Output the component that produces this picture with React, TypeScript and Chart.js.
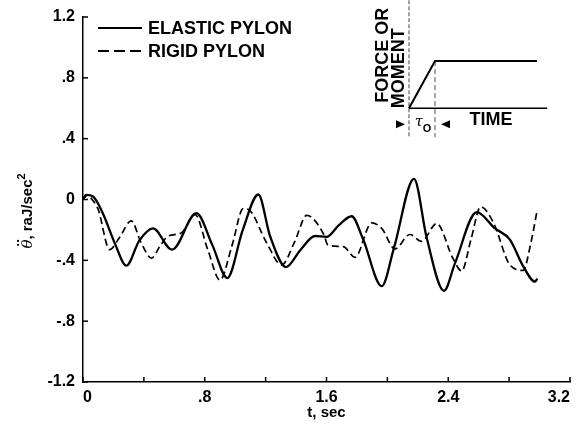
import React, { useEffect, useRef } from 'react';
import { Chart, registerables } from 'chart.js';

Chart.register(...registerables);

// ---- Data ----
const seriesNames = ['ELASTIC PYLON', 'RIGID PYLON'];

const elasticT = [0, 0.02, 0.066, 0.13, 0.21, 0.285, 0.37, 0.46, 0.585, 0.745, 0.85, 0.948, 1.05, 1.152, 1.229, 1.334, 1.43, 1.525, 1.6, 1.68, 1.765, 1.84, 1.963, 2.043, 2.175, 2.258, 2.372, 2.444, 2.587, 2.707, 2.805, 2.893, 2.97, 2.985];
const elasticY = [0, 0.03, 0.02, -0.09, -0.29, -0.435, -0.27, -0.19, -0.33, -0.09, -0.3, -0.516, -0.2, 0.033, -0.24, -0.444, -0.33, -0.24, -0.246, -0.17, -0.11, -0.26, -0.57, -0.32, 0.136, -0.25, -0.6, -0.42, -0.083, -0.19, -0.264, -0.44, -0.54, -0.52];

const rigidT = [0, 0.03, 0.06, 0.1, 0.175, 0.24, 0.317, 0.38, 0.45, 0.51, 0.56, 0.646, 0.736, 0.82, 0.9, 0.98, 1.053, 1.093, 1.207, 1.305, 1.39, 1.47, 1.58, 1.61, 1.71, 1.787, 1.897, 1.963, 2.05, 2.148, 2.225, 2.324, 2.43, 2.488, 2.55, 2.613, 2.696, 2.805, 2.893, 2.94, 2.985];
const rigidY = [0, 0.03, 0.0, -0.066, -0.33, -0.25, -0.14, -0.28, -0.385, -0.3, -0.24, -0.22, -0.1, -0.33, -0.53, -0.3, -0.06, -0.07, -0.286, -0.43, -0.28, -0.105, -0.225, -0.3, -0.31, -0.38, -0.154, -0.19, -0.325, -0.23, -0.275, -0.158, -0.385, -0.47, -0.26, -0.048, -0.15, -0.43, -0.466, -0.3, -0.066];

const xTickValues = [0, 0.4, 0.8, 1.2, 1.6, 2.0, 2.4, 2.8, 3.2];
const xTickLabels = ['0', '', '.8', '', '1.6', '', '2.4', '', '3.2'];
const yTickValues = [-1.2, -0.8, -0.4, 0, 0.4, 0.8, 1.2];
const yTickLabels = ['-1.2', '-.8', '-.4', '0', '.4', '.8', '1.2'];

const xTitle = 't, sec';
const yTitleSymbol = 'θ';
const yTitleRest = ', raJ/sec';
const yTitleSup = '2';

// Inset schematic (force or moment vs time), in main-axis units
const insetRampT = [2.142, 2.313, 2.983];
const insetRampY = [0.6, 0.91, 0.91];
const insetAxisT = [2.142, 3.05];
const insetAxisY = [0.6, 0.6];
const insetVAxisT = [2.142, 2.142];
const insetVAxisY = [1.31, 0.41];
const insetTauT = [2.313, 2.313];
const insetTauY = [0.91, 0.41];
const insetLabels = ['FORCE OR', 'MOMENT', 'TIME', 'τ', 'O'];

const FONT = "'Liberation Sans', Arial, Helvetica, sans-serif";
const NARROW = "'Liberation Sans Narrow', 'Liberation Sans', Arial, sans-serif";

const pts = (xs: number[], ys: number[]) => xs.map((x, i) => ({ x, y: ys[i] }));

const decorPlugin = {
  id: 'decor',
  afterDatasetsDraw(chart: any) {
    const { ctx, chartArea, scales } = chart;
    const x = scales.x;
    const y = scales.y;
    ctx.save();
    ctx.strokeStyle = '#000';
    ctx.fillStyle = '#000';
    ctx.lineWidth = 1.5;
    // inward ticks
    for (const v of xTickValues) {
      const px = x.getPixelForValue(v);
      ctx.beginPath();
      ctx.moveTo(px, chartArea.bottom);
      ctx.lineTo(px, chartArea.bottom - 5);
      ctx.stroke();
    }
    for (const v of yTickValues) {
      const py = y.getPixelForValue(v);
      ctx.beginPath();
      ctx.moveTo(chartArea.left, py);
      ctx.lineTo(chartArea.left + 5, py);
      ctx.stroke();
    }

    // legend
    const lx = chartArea.left + 15;
    const ly = [28, 51];
    ctx.font = `bold 18px ${NARROW}`;
    ctx.textBaseline = 'middle';
    ctx.textAlign = 'left';
    for (let i = 0; i < 2; i++) {
      ctx.beginPath();
      ctx.lineWidth = i === 0 ? 2.2 : 1.8;
      ctx.setLineDash(i === 0 ? [] : [11, 5]);
      ctx.moveTo(lx, ly[i]);
      ctx.lineTo(lx + 44, ly[i]);
      ctx.stroke();
      ctx.setLineDash([]);
      ctx.fillText(seriesNames[i], lx + 50, ly[i] + 1);
    }

    // axis titles
    ctx.font = `bold 15px ${FONT}`;
    ctx.textAlign = 'center';
    ctx.fillText(xTitle, (chartArea.left + chartArea.right) / 2, 413);
    ctx.save();
    ctx.translate(27, 211);
    ctx.rotate(-Math.PI / 2);
    ctx.textAlign = 'left';
    ctx.textBaseline = 'alphabetic';
    ctx.font = `italic 15px 'DejaVu Serif', serif`;
    const w0 = ctx.measureText(yTitleSymbol).width;
    ctx.font = `bold 15px ${FONT}`;
    const w1 = ctx.measureText(yTitleRest).width;
    ctx.font = `bold 11px ${FONT}`;
    const w2 = ctx.measureText(yTitleSup).width;
    let sx = -(w0 + w1 + w2) / 2;
    const base = 5;
    ctx.font = `italic 15px 'DejaVu Serif', serif`;
    ctx.fillText(yTitleSymbol, sx, base);
    // double dot accent over theta
    ctx.beginPath();
    ctx.arc(sx + w0 * 0.42, base - 14, 1.1, 0, Math.PI * 2);
    ctx.arc(sx + w0 * 0.85, base - 14, 1.1, 0, Math.PI * 2);
    ctx.fill();
    sx += w0;
    ctx.font = `bold 15px ${FONT}`;
    ctx.fillText(yTitleRest, sx, base);
    sx += w1;
    ctx.font = `bold 11px ${FONT}`;
    ctx.fillText(yTitleSup, sx, base - 7);
    ctx.restore();

    // inset texts
    ctx.textBaseline = 'middle';
    const ax = x.getPixelForValue(insetVAxisT[0]);
    const ay = y.getPixelForValue(insetAxisY[0]);
    const tx = x.getPixelForValue(insetTauT[0]);
    ctx.font = `bold 18px ${NARROW}`;
    ctx.textAlign = 'center';
    ctx.save();
    ctx.translate(ax - 26, ay - 53);
    ctx.rotate(-Math.PI / 2);
    ctx.fillText(insetLabels[0], 0, 0);
    ctx.restore();
    ctx.save();
    ctx.translate(ax - 10, ay - 40);
    ctx.rotate(-Math.PI / 2);
    ctx.fillText(insetLabels[1], 0, 0);
    ctx.restore();
    ctx.font = `bold 18px ${NARROW}`;
    ctx.fillText(insetLabels[2], ax + 82, ay + 12);
    // arrows
    const arY = ay + 16;
    ctx.beginPath();
    ctx.moveTo(ax - 13, arY - 4);
    ctx.lineTo(ax - 4, arY);
    ctx.lineTo(ax - 13, arY + 4);
    ctx.closePath();
    ctx.fill();
    ctx.beginPath();
    ctx.moveTo(tx + 15, arY - 4);
    ctx.lineTo(tx + 6, arY);
    ctx.lineTo(tx + 15, arY + 4);
    ctx.closePath();
    ctx.fill();
    ctx.font = `italic 15px 'DejaVu Serif', serif`;
    ctx.fillText(insetLabels[3], (ax + tx) / 2 - 3, arY - 2);
    ctx.font = `bold 11px ${FONT}`;
    ctx.fillText(insetLabels[4], (ax + tx) / 2 + 5, arY + 5);
    ctx.restore();
  },
};

export default function App() {
  const ref = useRef<HTMLCanvasElement | null>(null);
  useEffect(() => {
    document.body.style.margin = '0';
    const canvas = ref.current;
    if (!canvas) return;
    const chart = new Chart(canvas, {
      type: 'line',
      data: {
        datasets: [
          {
            label: seriesNames[0],
            data: pts(elasticT, elasticY),
            borderColor: '#000',
            borderWidth: 2.3,
            pointRadius: 0,
            cubicInterpolationMode: 'monotone',
          },
          {
            label: seriesNames[1],
            data: pts(rigidT, rigidY),
            borderColor: '#000',
            borderWidth: 1.7,
            borderDash: [7, 4],
            pointRadius: 0,
            cubicInterpolationMode: 'monotone',
          },
          {
            label: 'inset',
            data: pts(insetRampT, insetRampY),
            borderColor: '#000',
            borderWidth: 2,
            pointRadius: 0,
            tension: 0,
          },
          {
            label: 'inset-axis',
            data: pts(insetAxisT, insetAxisY),
            borderColor: '#000',
            borderWidth: 1.5,
            pointRadius: 0,
            tension: 0,
          },
          {
            label: 'inset-vaxis',
            data: pts(insetVAxisT, insetVAxisY),
            borderColor: '#444',
            borderWidth: 1,
            borderDash: [4, 2],
            pointRadius: 0,
            tension: 0,
            clip: false,
          },
          {
            label: 'inset-tau',
            data: pts(insetTauT, insetTauY),
            borderColor: '#555',
            borderWidth: 1,
            borderDash: [5, 3],
            pointRadius: 0,
            tension: 0,
          },
        ],
      },
      options: {
        animation: false,
        responsive: true,
        maintainAspectRatio: false,
        layout: { padding: { top: 17, right: 7, left: 0, bottom: 0 } },
        plugins: { legend: { display: false }, tooltip: { enabled: false } },
        scales: {
          x: {
            type: 'linear',
            min: 0,
            max: 3.2,
            afterBuildTicks: (s: any) => {
              s.ticks = xTickValues.map((v) => ({ value: v }));
            },
            afterFit: (s: any) => {
              s.height = 43;
              s.paddingLeft = 0;
              s.paddingRight = 0;
            },
            grid: { display: false, drawTicks: false },
            border: { display: true, color: '#000', width: 1.5 },
            ticks: {
              padding: 6,
              color: '#000',
              align: 'inner',
              font: { family: FONT, size: 16, weight: 'bold' },
              maxRotation: 0,
              autoSkip: false,
              callback: (_v: any, i: number) => xTickLabels[i],
            },
          },
          y: {
            type: 'linear',
            min: -1.2,
            max: 1.2,
            afterBuildTicks: (s: any) => {
              s.ticks = yTickValues.map((v) => ({ value: v }));
            },
            afterFit: (s: any) => {
              s.width = 83;
              s.paddingTop = 0;
              s.paddingBottom = 0;
            },
            grid: { display: false, drawTicks: false },
            border: { display: true, color: '#000', width: 1.5 },
            ticks: {
              padding: 8,
              color: '#000',
              font: { family: FONT, size: 16, weight: 'bold' },
              autoSkip: false,
              callback: (_v: any, i: number) => yTickLabels[i],
            },
          },
        },
      },
      plugins: [decorPlugin],
    } as any);
    return () => chart.destroy();
  }, []);
  return (
    <div style={{ width: 577, height: 425, position: 'relative' }}>
      <canvas ref={ref} />
    </div>
  );
}
